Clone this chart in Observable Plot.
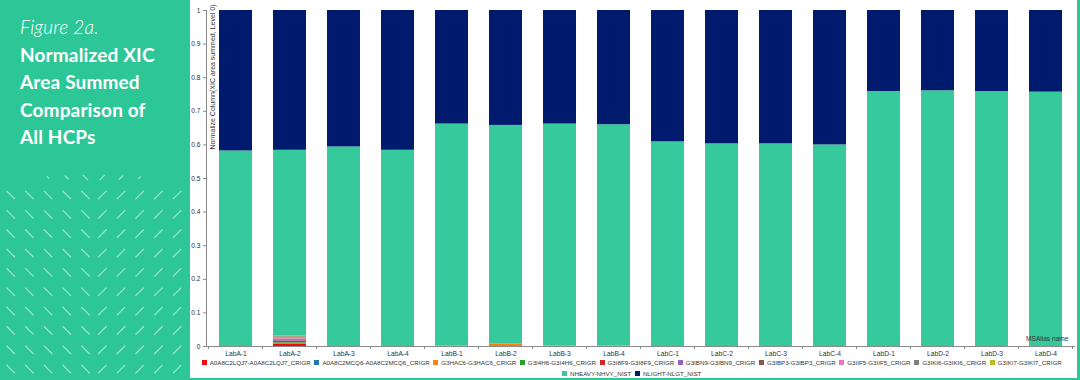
<!DOCTYPE html>
<html><head><meta charset="utf-8">
<script src="https://cdn.jsdelivr.net/npm/d3@7"></script>
<script src="https://cdn.jsdelivr.net/npm/@observablehq/plot@0.6"></script>
<style>
html,body{margin:0;padding:0;}
body{width:1080px;height:380px;background:#2dc797;position:relative;overflow:hidden;font-family:"Liberation Sans",Arial,sans-serif;}
#left{position:absolute;left:0;top:0;}
#panel{position:absolute;left:190px;top:0;width:887px;height:378px;background:#fff;}
#chart{position:absolute;left:0;top:0;}
#chart svg{display:block;}
#legend{position:absolute;left:0;top:357.5px;width:887px;}
#legend > div{justify-content:center;min-height:0;margin:0;font-family:"Liberation Sans",Arial,sans-serif;font-size:6.2px;color:#333;}
#legend > div > span{margin-right:3.6px;height:10.5px;}
#legend > div > span > svg{margin-right:3px;}
</style>
</head><body>
<svg id="left" width="190" height="380"></svg>
<div id="panel"><div id="chart"></div><div id="legend"></div></div>
<script>
// ---- data ----
const labs = ["LabA-1","LabA-2","LabA-3","LabA-4","LabB-1","LabB-2","LabB-3","LabB-4",
              "LabC-1","LabC-2","LabC-3","LabC-4","LabD-1","LabD-2","LabD-3","LabD-4"];
const series = ["A0A8C2LQJ7-A0A8C2LQJ7_CRIGR","A0A8C2MCQ6-A0A8C2MCQ6_CRIGR","G3HAC6-G3HAC6_CRIGR",
                "G3I4H6-G3I4H6_CRIGR","G3I8F9-G3I8F9_CRIGR","G3IBN9-G3IBN9_CRIGR","G3IBP3-G3IBP3_CRIGR",
                "G3IIF5-G3IIF5_CRIGR","G3IKI6-G3IKI6_CRIGR","G3IKI7-G3IKI7_CRIGR",
                "NHEAVY-NHVY_NIST","NLIGHT-NLGT_NIST"];
const colors = ["#f00a0a","#1f77b4","#ff7f0e","#2ca02c","#d62728","#9467bd","#8c564b",
                "#e377c2","#7f7f7f","#bcbd22","#36c99b","#001a6e"];
const lqj7  = [0,0.006,0,0, 0,0,0,0, 0,0,0,0, 0,0,0,0];
const mcq6  = [0,0.002,0,0, 0,0,0,0, 0,0,0,0, 0,0,0,0];
const hac6  = [0,0.002,0,0, 0.002,0.007,0.002,0.002, 0,0,0,0, 0,0,0,0];
const i4h6  = [0,0.002,0,0, 0,0,0,0, 0,0,0,0, 0,0,0,0];
const i8f9  = [0,0.004,0,0, 0,0,0,0, 0,0,0,0, 0,0,0,0];
const ibn9  = [0,0.004,0,0, 0,0,0,0, 0,0,0,0, 0,0,0,0];
const ibp3  = [0,0.002,0,0, 0,0,0,0, 0,0,0,0, 0,0,0,0];
const iif5  = [0,0.004,0,0, 0,0,0,0, 0,0,0,0, 0,0,0,0];
const iki6  = [0,0.003,0,0, 0,0,0,0, 0,0,0,0, 0,0,0,0];
const iki7  = [0,0.002,0,0, 0,0,0,0, 0,0,0,0, 0,0,0,0];
const nheavy = [0.582,0.553,0.594,0.584, 0.660,0.651,0.660,0.658, 0.609,0.603,0.603,0.600, 0.759,0.761,0.759,0.757];
const nlight = [0.418,0.416,0.406,0.416, 0.338,0.342,0.338,0.340, 0.391,0.397,0.397,0.400, 0.241,0.239,0.241,0.243];
const yTicks = [0,0.1,0.2,0.3,0.4,0.5,0.6,0.7,0.8,0.9,1];
const yTitle = "Normalize Column(XIC area summed, Level 0)";
const xTitle = "MSAlias name";

const seriesValues = [lqj7,mcq6,hac6,i4h6,i8f9,ibn9,ibp3,iif5,iki6,iki7,nheavy,nlight];
const rows = labs.flatMap((lab,i) => seriesValues.map((vals,j) => ({lab, series: series[j], value: vals[i]})));

// ---- left panel ----
const left = d3.select("#left");
const titleLines = [
  {t:"Figure 2a.", y:34.3, italic:true},
  {t:"Normalized XIC", y:61.7},
  {t:"Area Summed", y:89.1},
  {t:"Comparison of", y:116.6},
  {t:"All HCPs", y:144}
];
const dg = left.append("g").attr("stroke","#ffffff").attr("stroke-opacity",0.55).attr("stroke-width",1.2);
const colX = [10.7,29.4,48.1,66.8,85.5,102.3,121,139.7,158.4,177.1];
for (let r = 0; r < 10; r++) {
  const cy = 195 + r*19.35;
  colX.forEach((cx,c) => {
    const h = 4.2, s = c < 5 ? 1 : -1;
    dg.append("line").attr("x1",cx-h).attr("y1",cy-h*s).attr("x2",cx+h).attr("y2",cy+h*s);
  });
}
[[2,1.2],[3,2],[4,2.6],[5,2.6],[6,2],[7,1.2]].forEach(([c,h]) => {
  const cx = colX[c], cy = 177.5, s = c < 5 ? 1 : -1;
  dg.append("line").attr("x1",cx-h).attr("y1",cy-h*s).attr("x2",cx+h).attr("y2",cy+h*s);
});
titleLines.forEach(l => {
  left.append("text").attr("x",20).attr("y",l.y).text(l.t)
    .attr("fill","#fff").attr("font-family","Lato, 'Open Sans', sans-serif")
    .attr("font-size",19).attr("font-weight", l.italic ? 300 : 700)
    .attr("font-style", l.italic ? "italic" : "normal")
    .attr("letter-spacing", l.italic ? 0.2 : 0.15);
});

// ---- chart ----
function bandTicks(index, scales) {
  const x = scales.x, y = scales.y;
  const step = x.step(), bw = x.bandwidth();
  const pos = x.domain().map(d => x(d) - (step - bw) / 2);
  pos.push(x(x.domain()[x.domain().length - 1]) + bw + (step - bw) / 2);
  const g = d3.create("svg:g");
  g.selectAll("line").data(pos).join("line")
    .attr("x1", d => d).attr("x2", d => d)
    .attr("y1", y(0)).attr("y2", y(0) + 3)
    .attr("stroke", "#8a8a8a");
  return g.node();
}

const chart = Plot.plot({
  width: 887, height: 358,
  marginLeft: 16, marginRight: 3, marginTop: 10, marginBottom: 12,
  style: {fontFamily: "'Liberation Sans', Arial, sans-serif", fontSize: "6.6px", color: "#333", background: "transparent"},
  x: {type: "band", domain: labs, paddingInner: 0.39, paddingOuter: 0.195, align: 0.5, axis: null},
  y: {domain: [0, 1], axis: null},
  color: {domain: series, range: colors},
  marks: [
    Plot.barY(rows, {x: "lab", y: "value", fill: "series"}),
    Plot.frame({anchor: "left", stroke: "#8a8a8a"}),
    Plot.frame({anchor: "bottom", stroke: "#8a8a8a"}),
    Plot.axisY({ticks: yTicks, tickSize: 3, tickPadding: 3, tickFormat: d3.format("~g"), label: null, stroke: "#8a8a8a", fill: "#333", fontSize: 6.6}),
    Plot.axisX({tickSize: 0, tickPadding: 5, label: null, fill: "#333", fontSize: 6.7}),
    bandTicks,
    Plot.text([yTitle], {frameAnchor: "top-left", rotate: -90, textAnchor: "end", dx: 4, dy: -6, fontSize: 7, fill: "#333"}),
    Plot.text([xTitle], {frameAnchor: "bottom-right", textAnchor: "end", dx: -6, dy: -5.5, fontSize: 6.6, fill: "#333"})
  ]
});
document.getElementById("chart").append(chart);

const legend = Plot.legend({
  color: {domain: series, range: colors},
  legend: "swatches", swatchSize: 5, className: "lg"
});
document.getElementById("legend").append(legend);
</script>
</body></html>
